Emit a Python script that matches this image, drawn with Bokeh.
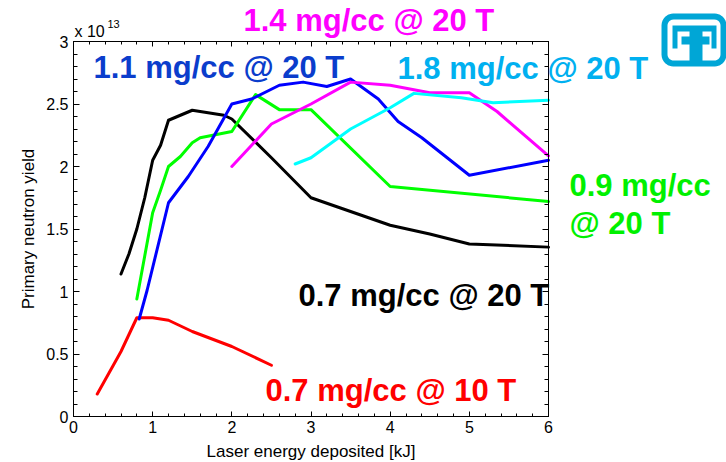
import numpy as np
from bokeh.plotting import figure
from bokeh.models import (Range1d, FixedTicker, LinearAxis, Label, PolyAnnotation,
                          CustomJSTickFormatter)
from bokeh.embed import file_html
from bokeh.resources import INLINE

# ---------------- data (yield in units of 1e13) ----------------
energy_07_10T = [0.3, 0.6, 0.8, 1.0, 1.2, 1.5, 2.0, 2.5]
yield_07_10T = [0.18, 0.52, 0.79, 0.79, 0.77, 0.68, 0.56, 0.41]

energy_07_20T = [0.6, 0.7, 0.8, 0.9, 1.0, 1.1, 1.2, 1.5, 1.9, 2.0, 2.5, 3.0, 3.5, 4.0, 4.5, 5.0, 6.0]
yield_07_20T = [1.14, 1.30, 1.50, 1.75, 2.05, 2.17, 2.37, 2.45, 2.41, 2.38, 2.07, 1.75, 1.64, 1.53, 1.46, 1.38, 1.355]

energy_09_20T = [0.8, 1.0, 1.1, 1.2, 1.35, 1.5, 1.6, 2.0, 2.3, 2.6, 3.0, 4.0, 6.0]
yield_09_20T = [0.94, 1.63, 1.81, 2.0, 2.08, 2.19, 2.23, 2.28, 2.575, 2.455, 2.455, 1.84, 1.72]

energy_11_20T = [0.83, 0.93, 1.2, 1.45, 1.7, 2.0, 2.25, 2.6, 2.9, 3.2, 3.5, 3.85, 4.1, 4.4, 5.0, 6.0]
yield_11_20T = [0.78, 1.01, 1.71, 1.92, 2.16, 2.50, 2.54, 2.65, 2.675, 2.64, 2.70, 2.54, 2.36, 2.23, 1.93, 2.05]

energy_14_20T = [2.0, 2.25, 2.5, 3.0, 3.5, 4.0, 4.5, 5.0, 5.35, 6.0]
yield_14_20T = [2.0, 2.17, 2.34, 2.50, 2.675, 2.65, 2.59, 2.59, 2.44, 2.085]

energy_18_20T = [2.8, 3.0, 3.5, 4.0, 4.3, 4.9, 5.3, 6.0]
yield_18_20T = [2.02, 2.07, 2.30, 2.47, 2.585, 2.55, 2.51, 2.53]

x_ticks = [0, 1, 2, 3, 4, 5, 6]
y_ticks = [0, 0.5, 1, 1.5, 2, 2.5, 3]
X_MIN, X_MAX = 0, 6
Y_MIN, Y_MAX = 0, 3

# ---------------- page geometry (plot box in page pixels) ----------------
W, H = 726, 462
L, R, T, B = 73, 548, 41, 416
FONT = "Liberation Sans"

def dx(px):
    return X_MIN + (px - L) * (X_MAX - X_MIN) / (R - L)

def dy(py):
    return Y_MIN + (B - py) * (Y_MAX - Y_MIN) / (B - T)

# The frame covers the whole page so that the big labels and the emblem,
# which lie outside the plot box, are not clipped; the box itself is formed
# by four axes pinned at the data limits.
p = figure(width=W, height=H, output_backend="svg", toolbar_location=None,
           title=None, x_range=Range1d(dx(0), dx(W)), y_range=Range1d(dy(H), dy(0)),
           min_border=0, min_border_left=0, min_border_right=0,
           min_border_top=0, min_border_bottom=0,
           background_fill_color="white", border_fill_color="white")
p.xgrid.visible = False
p.ygrid.visible = False
p.outline_line_color = None

xminor = [round(v, 2) for v in np.arange(X_MIN, X_MAX + 0.001, 0.2)]
yminor = [round(v, 2) for v in np.arange(Y_MIN, Y_MAX + 0.001, 0.1)]
fmt = CustomJSTickFormatter(code="return String(Number(tick.toFixed(2)));")

def style_ticks(ax, major_in, minor_in):
    ax.major_tick_in = major_in
    ax.major_tick_out = 0
    ax.minor_tick_in = minor_in
    ax.minor_tick_out = 0
    ax.axis_line_color = "black"
    ax.axis_line_width = 1
    ax.major_tick_line_color = "black"
    ax.minor_tick_line_color = "black"

xa = p.xaxis[0]
xa.fixed_location = Y_MIN
xa.bounds = (X_MIN, X_MAX)
xa.ticker = FixedTicker(ticks=x_ticks, minor_ticks=xminor)
xa.formatter = fmt
style_ticks(xa, 5, 3)
xa.major_label_text_font = FONT
xa.major_label_text_font_size = "16px"
xa.major_label_text_color = "black"
xa.major_label_standoff = 4
xa.axis_label = "Laser energy deposited [kJ]"
xa.axis_label_text_font = FONT
xa.axis_label_text_font_size = "17px"
xa.axis_label_text_font_style = "normal"
xa.axis_label_text_color = "black"
xa.axis_label_standoff = 6

ya = p.yaxis[0]
ya.fixed_location = X_MIN
ya.bounds = (Y_MIN, Y_MAX)
ya.ticker = FixedTicker(ticks=y_ticks, minor_ticks=yminor)
ya.formatter = fmt
style_ticks(ya, 6, 4)
ya.major_label_text_font = FONT
ya.major_label_text_font_size = "16px"
ya.major_label_text_color = "black"
ya.major_label_standoff = 5
ya.axis_label = "Primary neutron yield"
ya.axis_label_text_font = FONT
ya.axis_label_text_font_size = "17px"
ya.axis_label_text_font_style = "normal"
ya.axis_label_text_color = "black"
ya.axis_label_standoff = 5

# top and right edges of the box: ticks only, no labels
for side, loc, bounds, majors, minors, mj, mn in [
        ("above", Y_MAX, (X_MIN, X_MAX), x_ticks, xminor, 5, 3),
        ("right", X_MAX, (Y_MIN, Y_MAX), y_ticks, yminor, 6, 4)]:
    short = LinearAxis(fixed_location=loc, bounds=bounds,
                       ticker=FixedTicker(ticks=[], minor_ticks=minors))
    style_ticks(short, 0, mn)
    p.add_layout(short, side)
    long_ = LinearAxis(fixed_location=loc, bounds=bounds,
                       ticker=FixedTicker(ticks=[], minor_ticks=majors))
    style_ticks(long_, 0, mj)
    p.add_layout(long_, side)

# ---------------- lines ----------------
series = [
    (energy_07_10T, yield_07_10T, "#FF0000"),
    (energy_07_20T, yield_07_20T, "#000000"),
    (energy_09_20T, yield_09_20T, "#00FF00"),
    (energy_11_20T, yield_11_20T, "#0000FF"),
    (energy_14_20T, yield_14_20T, "#FF00FF"),
    (energy_18_20T, yield_18_20T, "#00FFFF"),
]
for xs, ys, c in series:
    p.line(xs, ys, line_color=c, line_width=3, line_join="round", line_cap="round")

# ---------------- annotations (baseline positions given in page pixels) ----------------
def label(px, py, text, color, size=31, style="bold"):
    shift = 0.33 * size   # renderer draws the alphabetic baseline this much lower
    p.add_layout(Label(x=dx(px), y=dy(py - shift), text=text, text_color=color,
                       text_font=FONT, text_font_size=f"{size}px", text_font_style=style,
                       text_align="left", text_baseline="alphabetic"))

label(93, 77, "1.1 mg/cc @ 20 T", "#0B3DCC")
label(243, 30, "1.4 mg/cc @ 20 T", "#FF00FF")
label(397, 78, "1.8 mg/cc @ 20 T", "#00B0F0")
label(569, 195, "0.9 mg/cc", "#00F000")
label(569, 233, "@ 20 T", "#00F000")
label(298, 305, "0.7 mg/cc @ 20 T", "#000000")
label(265, 400, "0.7 mg/cc @ 10 T", "#FF0000")

label(74, 36, "x 10", "black", size=16, style="normal")
label(107, 27, "13", "black", size=11, style="normal")

# ---------------- emblem (Sandia-style, outline given in page pixels) ----------------
LOGO = "#00A6D6"

def rounded_rect(x0, y0, x1, y1, r, n=8):
    pts = []
    corners = [(x1 - r, y0 + r, -90, 0), (x1 - r, y1 - r, 0, 90),
               (x0 + r, y1 - r, 90, 180), (x0 + r, y0 + r, 180, 270)]
    for cx, cy, a0, a1 in corners:
        for a in np.linspace(np.radians(a0), np.radians(a1), n):
            pts.append((cx + r * np.cos(a), cy + r * np.sin(a)))
    return pts

def poly(pts, fill=None, line=None, lw=0):
    p.add_layout(PolyAnnotation(xs=[dx(a) for a, _ in pts], ys=[dy(b) for _, b in pts],
                                fill_color=fill, fill_alpha=1 if fill else 0,
                                line_color=line, line_width=lw, line_alpha=1 if line else 0))

poly(rounded_rect(664, 16, 723, 63, 9), line=LOGO, lw=6)
bird = [(672, 25), (716, 25), (716, 48), (711, 48), (711, 31), (702, 31), (702, 36),
        (709, 36), (709, 44), (702, 44), (702, 62), (689, 62), (689, 44), (681, 44),
        (681, 36), (689, 36), (689, 31), (677, 31), (677, 48), (672, 48)]
poly(bird, fill=LOGO)

open("out.html", "w").write(file_html(p, INLINE))
